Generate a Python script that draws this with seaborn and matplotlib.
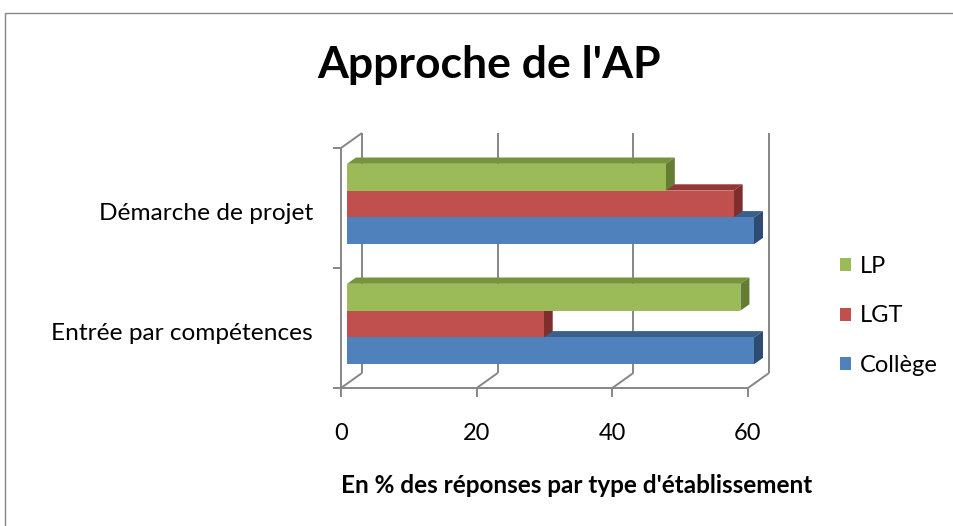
import pandas as pd
import matplotlib.pyplot as plt
import matplotlib.transforms as mtransforms
from matplotlib.patches import Polygon, Rectangle
import seaborn as sns

# Data
categories = ["Démarche de projet", "Entrée par compétences"]
types = ["LP", "LGT", "Collège"]
lp = [47, 58]
lgt = [57, 29]
college = [60, 60]
x_ticks = [0, 20, 40, 60]

front_colors = {"LP": "#9BBB59", "LGT": "#C0504D", "Collège": "#4F81BD"}
top_colors = {"LP": "#77933C", "LGT": "#953735", "Collège": "#3A5F8C"}
side_colors = {"LP": "#647D33", "LGT": "#7E2E2C", "Collège": "#2E4B71"}
grid_color = "#868686"

df = pd.DataFrame({
    "approche": categories * 3,
    "type": ["LP"] * 2 + ["LGT"] * 2 + ["Collège"] * 2,
    "pct": lp + lgt + college,
})

sns.set_theme(style="white")
plt.rcParams["font.family"] = ["Lato", "DejaVu Sans"]
plt.rcParams["text.color"] = "black"

W, H = 954, 526
fig = plt.figure(figsize=(W / 100, H / 100), dpi=100)
# axes = plane of the bars' front faces
ax = fig.add_axes([347 / W, (H - 384) / H, 407 / W, 240 / H])

sns.barplot(data=df, x="pct", y="approche", hue="type", order=categories,
            hue_order=types, palette=front_colors, width=0.67, orient="h",
            linewidth=0, saturation=1, ax=ax)
ax.set_xlim(0, 60)
ax.set_ylim(1.5, -0.5)
ax.set_xticks([])
ax.set_yticks([])
ax.set_xlabel("")
ax.set_ylabel("")
for s in ax.spines.values():
    s.set_visible(False)

# 3D depth offsets in pixels
FRONT = (-6, -4)
BACK = (15, 11)
DEPTH = (9, 6.3)
inv = ax.transData.inverted()


def disp(x, y, off=(0, 0)):
    px, py = ax.transData.transform((x, y))
    return (px + off[0], py + off[1])


def line(a, b, **kw):
    pts = inv.transform([a, b])
    ax.plot(pts[:, 0], pts[:, 1], color=grid_color, lw=1.4, clip_on=False,
            zorder=1, solid_capstyle="butt", **kw)


# back wall, floor and left wall
for t in x_ticks:
    line(disp(t, 1.5, BACK), disp(t, -0.5, BACK))
    line(disp(t, 1.5, FRONT), disp(t, 1.5, BACK))
    fx, fy = disp(t, 1.5, FRONT)
    line((fx, fy), (fx, fy - 9))
line(disp(0, 1.5, FRONT), disp(60, 1.5, FRONT))
line(disp(0, 1.5, FRONT), disp(0, -0.5, FRONT))
line(disp(0, -0.5, FRONT), disp(0, -0.5, BACK))
for yb in [-0.5, 0.5, 1.5]:
    fx, fy = disp(0, yb, FRONT)
    line((fx, fy), (fx - 8, fy))

# 3D faces of the bars (bottom bar of each group drawn first)
for level, cont in zip(types, ax.containers):
    rank = types[::-1].index(level)
    for p in cont.patches:
        p.set_zorder(3 + 2 * rank)
        x0, y0 = disp(p.get_x(), p.get_y())
        x1, y1 = disp(p.get_x() + p.get_width(), p.get_y() + p.get_height())
        left, right = min(x0, x1), max(x0, x1)
        top, bot = max(y0, y1), min(y0, y1)
        dx, dy = DEPTH
        top_face = [(left, top), (right, top), (right + dx, top + dy), (left + dx, top + dy)]
        side_face = [(right, bot), (right, top), (right + dx, top + dy), (right + dx, bot + dy)]
        for face, col in [(top_face, top_colors[level]), (side_face, side_colors[level])]:
            ax.add_patch(Polygon(inv.transform(face), closed=True, facecolor=col,
                                 lw=0, zorder=2 + 2 * rank, clip_on=False))

# tick labels on the front plane
tick_tr = mtransforms.offset_copy(ax.transData, fig=fig, x=FRONT[0], y=FRONT[1] - 52, units="dots")
for t in x_ticks:
    ax.text(t, 1.5, str(t), transform=tick_tr, ha="center", va="baseline", fontsize=17)
cat_tr = mtransforms.offset_copy(ax.transData, fig=fig, x=FRONT[0] - 28, y=-7.5, units="dots")
for i, cat in enumerate(categories):
    ax.text(0, i, cat, transform=cat_tr, ha="right", va="center_baseline", fontsize=17.6)

# legend
handles, labels = ax.get_legend_handles_labels()
ax.legend(handles, labels, loc="center left", bbox_to_anchor=(840 / W, 1 - 316 / H),
          bbox_transform=fig.transFigure, frameon=False, fontsize=17,
          handlelength=0.48, handleheight=0.48, handletextpad=0.35,
          labelspacing=1.2, borderpad=0, borderaxespad=0)

fig.text(489 / W, 1 - 78 / H, "Approche de l'AP", ha="center", va="baseline",
         fontsize=32, fontweight="bold")
fig.text(577 / W, 1 - 493 / H, "En % des réponses par type d'établissement",
         ha="center", va="baseline", fontsize=17.5, fontweight="bold")

# chart area border
fig.add_artist(Rectangle((5.5 / W, -0.05), 1.2, 1.05 - 13.5 / H, transform=fig.transFigure,
                         fill=False, edgecolor=grid_color, lw=1))

fig.savefig("out.png", dpi=100)
